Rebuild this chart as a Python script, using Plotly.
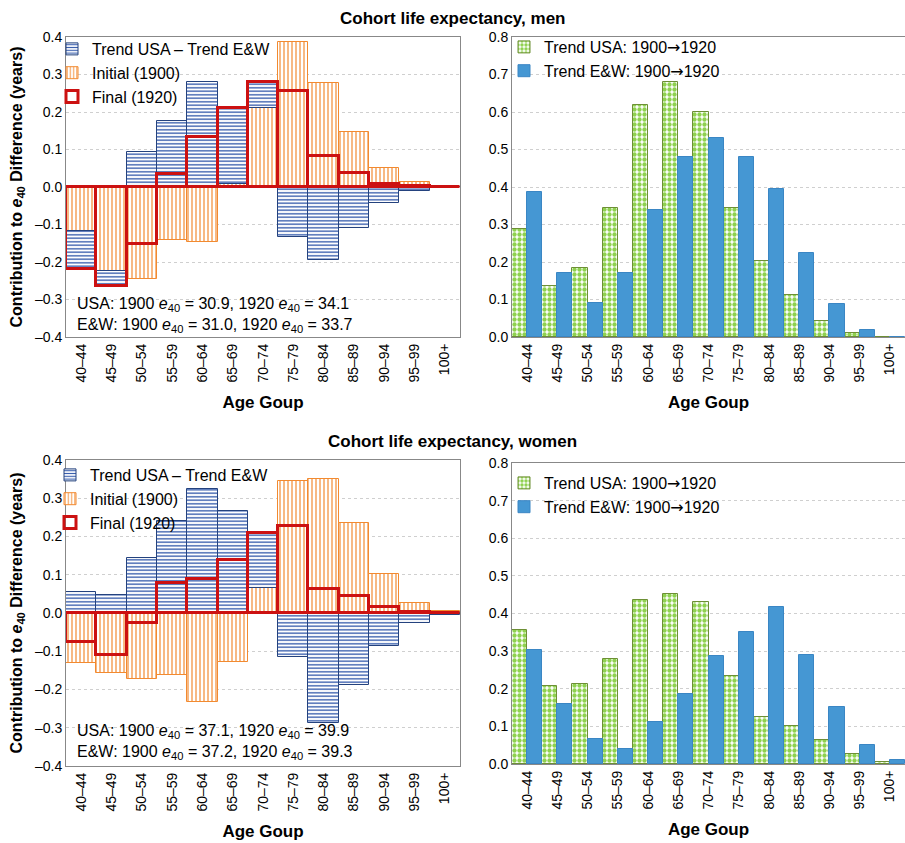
import plotly.graph_objects as go

# ---------------- data ----------------
age_groups = ["40–44", "45–49", "50–54", "55–59", "60–64", "65–69", "70–74",
              "75–79", "80–84", "85–89", "90–94", "95–99", "100+"]

# Men: contributions to e40 difference (years)
men_initial = [-0.118, -0.224, -0.245, -0.142, -0.146, 0.009, 0.211,
               0.388, 0.278, 0.147, 0.051, 0.014, 0.001]
men_trend_diff = [-0.100, -0.040, 0.094, 0.177, 0.279, 0.202, 0.069,
                  -0.133, -0.194, -0.110, -0.043, -0.010, -0.001]
men_final = [-0.218, -0.264, -0.151, 0.035, 0.133, 0.211, 0.280,
             0.255, 0.084, 0.037, 0.008, 0.004, 0.000]

# Women
women_initial = [-0.132, -0.156, -0.173, -0.161, -0.233, -0.127, 0.066,
                 0.344, 0.351, 0.234, 0.103, 0.026, 0.004]
women_trend_diff = [0.056, 0.047, 0.145, 0.240, 0.323, 0.267, 0.144,
                    -0.116, -0.287, -0.188, -0.086, -0.025, -0.004]
women_final = [-0.077, -0.110, -0.027, 0.078, 0.090, 0.139, 0.210,
               0.228, 0.063, 0.045, 0.016, 0.002, 0.000]

# Trends 1900 -> 1920
men_trend_usa = [0.288, 0.137, 0.184, 0.345, 0.619, 0.679, 0.599,
                 0.345, 0.202, 0.111, 0.044, 0.010, 0.001]
men_trend_ew = [0.388, 0.172, 0.090, 0.170, 0.340, 0.479, 0.532,
                0.479, 0.396, 0.225, 0.087, 0.020, 0.001]
women_trend_usa = [0.357, 0.208, 0.213, 0.279, 0.435, 0.453, 0.431,
                   0.235, 0.126, 0.102, 0.065, 0.027, 0.006]
women_trend_ew = [0.303, 0.159, 0.067, 0.040, 0.112, 0.187, 0.286,
                  0.352, 0.416, 0.291, 0.152, 0.050, 0.010]

left_ticks = [-0.4, -0.3, -0.2, -0.1, 0.0, 0.1, 0.2, 0.3, 0.4]
right_ticks = [0.0, 0.1, 0.2, 0.3, 0.4, 0.5, 0.6, 0.7, 0.8]

men_e40 = "USA: 1900 <i>e</i><sub>40</sub> = 30.9, 1920 <i>e</i><sub>40</sub> = 34.1<br>E&W: 1900 <i>e</i><sub>40</sub> = 31.0, 1920 <i>e</i><sub>40</sub> = 33.7"
women_e40 = "USA: 1900 <i>e</i><sub>40</sub> = 37.1, 1920 <i>e</i><sub>40</sub> = 39.9<br>E&W: 1900 <i>e</i><sub>40</sub> = 37.2, 1920 <i>e</i><sub>40</sub> = 39.3"

ARROW = "<span style='font-family:DejaVu Sans'>→</span>"

# ---------------- style ----------------
FONT = "Liberation Sans, Arial, sans-serif"
ORANGE = "#f28a30"
WAVE_BLUE = "#3a5fae"
WAVE_EDGE = "#24427e"
RED = "#cc1111"
GREEN = "#8fd14f"
GREEN_EDGE = "#6d8f35"
BLUE = "#4597d3"
BLUE_EDGE = "#3a86c4"

W, H = 905, 843


def px_x(p):
    return p / W


def px_y(p):
    return 1 - p / H


def fmt(v):
    s = f"{abs(v):.1f}"
    return ("–" + s) if v < 0 else s


fig = go.Figure()


def stacked_base(initial, diff):
    return [i if (i >= 0) == (d >= 0) else 0 for i, d in zip(initial, diff)]


def add_left(xa, ya, legend, initial, diff, final):
    fig.add_trace(go.Bar(
        x=age_groups, y=initial, xaxis=xa, yaxis=ya, width=1,
        name="Initial (1900)", legend=legend, legendrank=2,
        marker=dict(color=ORANGE, line=dict(color=ORANGE, width=1),
                    pattern=dict(shape="|", fgcolor=ORANGE, bgcolor="white",
                                 size=4, solidity=0.3)),
    ))
    fig.add_trace(go.Bar(
        x=age_groups, y=diff, base=stacked_base(initial, diff),
        xaxis=xa, yaxis=ya, width=1,
        name="Trend USA – Trend E&W", legend=legend, legendrank=1,
        marker=dict(color=WAVE_BLUE, line=dict(color=WAVE_EDGE, width=1),
                    pattern=dict(shape="-", fgcolor=WAVE_BLUE, bgcolor="white",
                                 size=3.5, solidity=0.4)),
    ))
    fig.add_trace(go.Bar(
        x=age_groups, y=final, xaxis=xa, yaxis=ya, width=1,
        name="Final (1920)", legend=legend, legendrank=3,
        marker=dict(color="rgba(0,0,0,0)", line=dict(color=RED, width=3)),
    ))


def add_right(xa, ya, legend, usa, ew):
    fig.add_trace(go.Bar(
        x=age_groups, y=usa, xaxis=xa, yaxis=ya, width=0.5, offset=-0.5,
        name="Trend USA: 1900" + ARROW + "1920", legend=legend, legendrank=1,
        marker=dict(color=GREEN, line=dict(color=GREEN_EDGE, width=1),
                    pattern=dict(shape=".", fgcolor=GREEN, bgcolor="white",
                                 size=5, solidity=0.6)),
    ))
    fig.add_trace(go.Bar(
        x=age_groups, y=ew, xaxis=xa, yaxis=ya, width=0.5, offset=0,
        name="Trend E&W: 1900" + ARROW + "1920", legend=legend, legendrank=2,
        marker=dict(color=BLUE, line=dict(color=BLUE_EDGE, width=1)),
    ))


add_left("x", "y", "legend", men_initial, men_trend_diff, men_final)
add_right("x2", "y2", "legend2", men_trend_usa, men_trend_ew)
add_left("x3", "y3", "legend3", women_initial, women_trend_diff, women_final)
add_right("x4", "y4", "legend4", women_trend_usa, women_trend_ew)

left_dom = [px_x(66), px_x(460)]
right_dom = [px_x(512), 1.0]
top_dom = [px_y(337), px_y(37)]
bl_dom = [px_y(766), px_y(460)]
br_dom = [px_y(764), px_y(463)]

tickfont = dict(family=FONT, size=14, color="black")
xcommon = dict(type="category", range=[-0.5, 12.5], tickangle=-90,
               tickfont=tickfont, showgrid=False, showline=True, automargin=False,
               linecolor="#888888", linewidth=1, mirror=True, ticks="",
               title=dict(text="<b>Age Goup</b>", standoff=14,
                          font=dict(family=FONT, size=17, color="black")))
ytitle = dict(text="<b>Contribution to <i>e</i><sub>40</sub> Difference (years)</b>",
              standoff=8, font=dict(family=FONT, size=16, color="black"))
yleft = dict(range=[-0.4, 0.4], tickvals=left_ticks, automargin=False,
             ticktext=[fmt(v) for v in left_ticks], tickfont=tickfont,
             showgrid=True, gridcolor="#cfcfcf", griddash="dot", gridwidth=1,
             zeroline=False, showline=True, linecolor="#888888", mirror=True,
             ticks="", title=ytitle)
yright = dict(range=[0, 0.8], tickvals=right_ticks, automargin=False,
              ticktext=[fmt(v) for v in right_ticks], tickfont=tickfont,
              showgrid=True, gridcolor="#cfcfcf", griddash="dot", gridwidth=1,
              zeroline=False, showline=True, linecolor="#888888", mirror=True,
              ticks="")

fig.update_layout(
    template="none",
    width=W, height=H, margin=dict(l=0, r=0, t=0, b=0, autoexpand=False),
    paper_bgcolor="white", plot_bgcolor="white",
    barmode="overlay", bargap=0,
    font=dict(family=FONT, size=14, color="black"),
    xaxis=dict(domain=left_dom, anchor="y", **xcommon),
    yaxis=dict(domain=top_dom, anchor="x", **yleft),
    xaxis2=dict(domain=right_dom, anchor="y2", **xcommon),
    yaxis2=dict(domain=top_dom, anchor="x2", **yright),
    xaxis3=dict(domain=left_dom, anchor="y3", **xcommon),
    yaxis3=dict(domain=bl_dom, anchor="x3", **yleft),
    xaxis4=dict(domain=right_dom, anchor="y4", **xcommon),
    yaxis4=dict(domain=br_dom, anchor="x4", **yright),
)

leg_common = dict(bgcolor="rgba(0,0,0,0)", font=dict(family=FONT, size=16, color="black"),
                  itemwidth=30, tracegroupgap=0, xanchor="left", yanchor="top",
                  traceorder="normal")
fig.update_layout(
    legend=dict(x=px_x(52), y=px_y(32), **leg_common),
    legend2=dict(x=px_x(504), y=px_y(30), **leg_common),
    legend3=dict(x=px_x(50), y=px_y(458), **leg_common),
    legend4=dict(x=px_x(504), y=px_y(466), **leg_common),
)

ann_font = dict(family=FONT, size=16, color="black")
fig.add_annotation(text="<b>Cohort life expectancy, men</b>", x=0.5, y=px_y(18),
                   xref="paper", yref="paper", xanchor="center", yanchor="middle",
                   showarrow=False, font=dict(family=FONT, size=17, color="black"))
fig.add_annotation(text="<b>Cohort life expectancy, women</b>", x=0.5, y=px_y(441),
                   xref="paper", yref="paper", xanchor="center", yanchor="middle",
                   showarrow=False, font=dict(family=FONT, size=17, color="black"))
fig.add_annotation(text=men_e40, x=px_x(75), y=px_y(315), xref="paper", yref="paper",
                   xanchor="left", yanchor="middle", align="left", showarrow=False,
                   font=ann_font)
fig.add_annotation(text=women_e40, x=px_x(75), y=px_y(742), xref="paper", yref="paper",
                   xanchor="left", yanchor="middle", align="left", showarrow=False,
                   font=ann_font)

fig.write_html("out.html", config={"displayModeBar": False},
               post_script="document.body.style.margin='0px';document.body.style.padding='0px';document.body.style.overflow='hidden';")
